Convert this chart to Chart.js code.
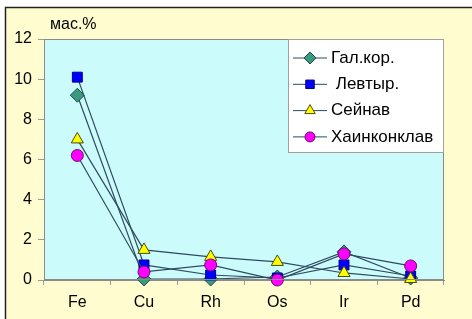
<!DOCTYPE html>
<html><head><meta charset="utf-8">
<script src="https://cdn.jsdelivr.net/npm/chart.js@4/dist/chart.umd.min.js"></script>
<style>html,body{margin:0;padding:0;background:#fff;}#w{width:472px;height:319px;position:relative;}</style>
</head><body><div id="w"><canvas id="c" width="472" height="319"></canvas></div>
<script>
const categories = ['Fe','Cu','Rh','Os','Ir','Pd'];
const seriesNames = ['Гал.кор.',' Левтыр.','Сейнав','Хаинконклав'];
const galkor = [9.2, 0.05, 0.05, 0.15, 1.4, 0.1];
const levtyr = [10.1, 0.75, 0.25, 0.1, 0.75, 0.2];
const seinav = [7.0, 1.5, 1.15, 0.9, 0.35, 0.05];
const khain = [6.2, 0.4, 0.75, 0.0, 1.3, 0.7];
const yTicks = [0,2,4,6,8,10,12];
const yUnit = 'мас.%';

const FONT = '"Liberation Sans", Arial, sans-serif';
const lineCol = '#2f4a60';
const styles = [
  {pointStyle:'rectRot', bg:'#3a9a80', border:'#1f4f45', r:7, lr:6},
  {pointStyle:'rect', bg:'#0000ff', border:'#000080', r:7, lr:6},
  {pointStyle:'triangle', bg:'#ffff00', border:'#4a4a10', r:7, lr:6},
  {pointStyle:'circle', bg:'#ff00ff', border:'#6a106a', r:6, lr:5}
];
const values = [galkor, levtyr, seinav, khain];

function drawMarker(ctx,s,x,y,r){
  ctx.save();
  ctx.fillStyle=s.bg; ctx.strokeStyle=s.border; ctx.lineWidth=1;
  Chart.helpers.drawPoint(ctx,{pointStyle:s.pointStyle,radius:r,borderWidth:1},x,y);
  ctx.restore();
}

const bgPlugin = {
  id:'bg',
  beforeDraw(chart){
    const ctx = chart.ctx, a = chart.chartArea;
    ctx.save();
    ctx.fillStyle = '#fffdd0';
    ctx.fillRect(5,7,467,312);
    ctx.strokeStyle = '#222';
    ctx.lineWidth = 1.5;
    ctx.beginPath(); ctx.moveTo(5.5,319); ctx.lineTo(5.5,7.5); ctx.lineTo(472,7.5); ctx.stroke();
    ctx.fillStyle = '#ccfbfb';
    ctx.fillRect(a.left,a.top,a.right-a.left,a.bottom-a.top);
    ctx.fillStyle = '#000';
    ctx.font = '16px ' + FONT;
    ctx.textBaseline = 'middle';
    ctx.fillText(yUnit, 50, 25);
    ctx.restore();
  },
  afterDatasetsDraw(chart){
    const ctx = chart.ctx, a = chart.chartArea;
    ctx.save();
    ctx.strokeStyle = '#8a8a8a';
    ctx.lineWidth = 1;
    ctx.strokeRect(a.left+0.5,a.top+0.5,a.right-a.left-1,a.bottom-a.top-1);
    ctx.restore();
  },
  afterDraw(chart){
    const ctx = chart.ctx;
    ctx.save();
    const x0=288, y0=39, w=155, h=113;
    ctx.fillStyle='#fff'; ctx.fillRect(x0,y0,w,h);
    ctx.strokeStyle='#a0a0a0'; ctx.lineWidth=1; ctx.strokeRect(x0+0.5,y0+0.5,w,h);
    ctx.font='17px '+FONT; ctx.textBaseline='middle';
    chart.data.datasets.forEach((ds,i)=>{
      const y = 58 + i*26.3;
      ctx.strokeStyle=lineCol; ctx.lineWidth=1;
      ctx.beginPath(); ctx.moveTo(293,y); ctx.lineTo(327,y); ctx.stroke();
      drawMarker(ctx,styles[i],310,y,styles[i].lr);
      ctx.fillStyle='#000';
      ctx.fillText(ds.label,331,y);
    });
    ctx.restore();
  }
};

new Chart(document.getElementById('c'),{
  type:'line',
  data:{
    labels:categories,
    datasets: values.map((v,i)=>({
      label:seriesNames[i],
      data:v,
      borderColor:lineCol,
      borderWidth:1.2,
      pointStyle:styles[i].pointStyle,
      pointBackgroundColor:styles[i].bg,
      pointBorderColor:styles[i].border,
      pointBorderWidth:1,
      pointRadius:styles[i].r,
      pointHoverRadius:styles[i].r,
      tension:0,
      order:4-i,
      clip:false
    }))
  },
  plugins:[bgPlugin],
  options:{
    responsive:false,
    animation:false,
    events:[],
    layout:{padding:{top:39,right:28,left:0,bottom:0}},
    plugins:{legend:{display:false},tooltip:{enabled:false},title:{display:false}},
    scales:{
      x:{
        offset:true,
        grid:{display:true,offset:true,drawOnChartArea:false,drawTicks:true,tickLength:5,color:'#9a9a9a'},
        border:{display:true,color:'#8a8a8a'},
        ticks:{color:'#000',font:{family:FONT,size:16},padding:8,maxRotation:0},
        afterFit(s){s.height=39;}
      },
      y:{
        min:0,max:12,
        afterBuildTicks(s){s.ticks = yTicks.map(v=>({value:v}));},
        grid:{display:true,drawOnChartArea:false,drawTicks:true,tickLength:6,color:'#9a9a9a'},
        border:{display:true,color:'#8a8a8a'},
        ticks:{color:'#000',font:{family:FONT,size:16},padding:6},
        afterFit(s){s.width=44;}
      }
    }
  }
});
</script></body></html>
